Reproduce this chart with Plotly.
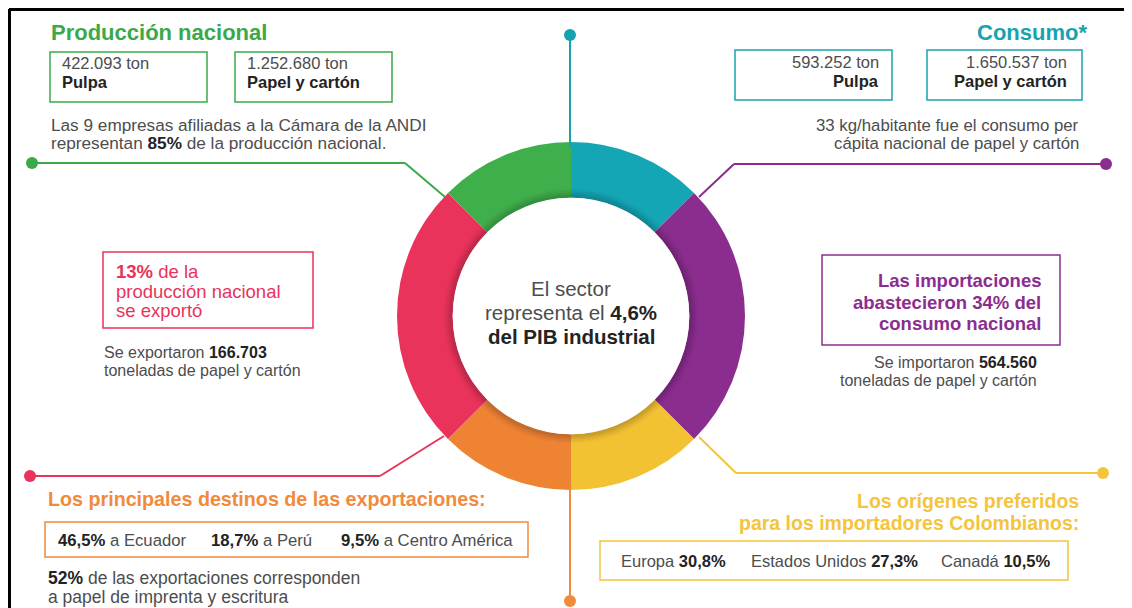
import plotly.graph_objects as go

# ---------------- data ----------------
segments = ["Consumo", "Importaciones", "Orígenes de importaciones",
            "Destinos de exportaciones", "Exportaciones", "Producción nacional"]
segment_share = [1, 2, 1, 1, 2, 1]
segment_colors = ["#14a6b5", "#8b2d8f", "#f3c233", "#ef8334", "#e9335b", "#3faf4b"]

produccion_ton = ["422.093", "1.252.680"]
produccion_labels = ["Pulpa", "Papel y cartón"]
consumo_ton = ["593.252", "1.650.537"]
consumo_labels = ["Pulpa", "Papel y cartón"]
destinos = ["Ecuador", "Perú", "Centro América"]
destinos_pct = ["46,5%", "18,7%", "9,5%"]
origenes = ["Europa", "Estados Unidos", "Canadá"]
origenes_pct = ["30,8%", "27,3%", "10,5%"]

# ---------------- layout helpers ----------------
# the page body has an 8px margin: the figure is drawn 8px in from the window corner
OFF = 8
W, H = 1132 - OFF, 608 - OFF
FONT = "Liberation Sans, Arial, Helvetica, sans-serif"
GRAY = "#4d4d4d"
DARK = "#232323"
GREEN, TEAL, PURPLE = "#3aa94a", "#17a3ad", "#8b2d8f"
RED, ORANGE, YELLOW = "#e9335b", "#f08a3c", "#f4c43c"

CX, CY, R_OUT, HOLE = 571, 316, 174, 0.68
R_IN = R_OUT * HOLE


def px(x):
    return (x - OFF) / W


def py(y):
    return 1 - (y - OFF) / H


shapes = []
annotations = []


def line(pts, color, width=2):
    for (x0, y0), (x1, y1) in zip(pts[:-1], pts[1:]):
        shapes.append(dict(type="line", xref="paper", yref="paper",
                           x0=px(x0), y0=py(y0), x1=px(x1), y1=py(y1),
                           line=dict(color=color, width=width)))


def dot(x, y, color, r=6):
    shapes.append(dict(type="circle", xref="paper", yref="paper",
                       x0=px(x - r), x1=px(x + r), y0=py(y - r), y1=py(y + r),
                       fillcolor=color, line=dict(width=0)))


def box(x0, y0, x1, y1, color, width=1.5):
    shapes.append(dict(type="rect", xref="paper", yref="paper",
                       x0=px(x0), x1=px(x1), y0=py(y0), y1=py(y1),
                       line=dict(color=color, width=width), fillcolor="rgba(0,0,0,0)"))


def text(x, y, s, size=15, color=GRAY, anchor="left"):
    annotations.append(dict(xref="paper", yref="paper", x=px(x), y=py(y), text=s,
                            showarrow=False, xanchor=anchor, yanchor="middle",
                            font=dict(family=FONT, size=size, color=color)))


def bold(s, color=DARK):
    return f"<b style='color:{color}'>{s}</b>"


# frame
line([(9, 9.5), (1132, 9.5)], "#000000", 3)
line([(9.5, 9), (9.5, 608)], "#000000", 3)

# connectors
line([(32, 163), (405, 163), (445, 197)], GREEN)
dot(32, 163, GREEN)
line([(570, 35), (570, 148)], TEAL)
dot(570, 35, TEAL)
line([(1106, 164), (734, 164), (699, 197)], PURPLE)
dot(1106, 164, PURPLE)
line([(30, 476), (380, 476), (444, 436)], RED)
dot(30, 476, RED)
line([(699, 437), (736, 473), (1103, 473)], YELLOW)
dot(1103, 473, YELLOW)
line([(570, 487), (570, 601)], ORANGE)
dot(570, 601, ORANGE)

# inner soft shadow + white centre
for k, a in [(9, 0.03), (7, 0.04), (5, 0.05), (3, 0.06)]:
    shapes.append(dict(type="circle", xref="paper", yref="paper",
                       x0=px(CX - R_IN - k), x1=px(CX + R_IN + k),
                       y0=py(CY - R_IN - k), y1=py(CY + R_IN + k),
                       fillcolor=f"rgba(0,0,0,{a})", line=dict(width=0)))
shapes.append(dict(type="circle", xref="paper", yref="paper",
                   x0=px(CX - R_IN), x1=px(CX + R_IN), y0=py(CY - R_IN), y1=py(CY + R_IN),
                   fillcolor="#ffffff", line=dict(width=0)))

# ---- Producción nacional (top-left)
text(49, 33, "<b>Producción nacional</b>", 22, GREEN)
box(50, 52, 207, 102, GREEN)
box(235, 52, 392, 102, GREEN)
text(60, 63, f"{produccion_ton[0]} ton", 16.5, GRAY)
text(60, 82, bold(produccion_labels[0]), 16.5, DARK)
text(245, 63, f"{produccion_ton[1]} ton", 16.5, GRAY)
text(245, 82, bold(produccion_labels[1]), 16.5, DARK)
text(49, 125, "Las 9 empresas afiliadas a la Cámara de la ANDI", 17.2, GRAY)
text(49, 143, f"representan {bold('85%')} de la producción nacional.", 17.2, GRAY)

# ---- Consumo (top-right)
text(1089, 33, "<b>Consumo*</b>", 22, TEAL, "right")
box(735, 50, 892, 100, TEAL)
box(927, 50, 1082, 100, TEAL)
text(881, 62, f"{consumo_ton[0]} ton", 16.5, GRAY, "right")
text(881, 81, bold(consumo_labels[0]), 16.5, DARK, "right")
text(1069, 62, f"{consumo_ton[1]} ton", 16.5, GRAY, "right")
text(1069, 81, bold(consumo_labels[1]), 16.5, DARK, "right")
text(1081, 125, "33 kg/habitante fue el consumo per", 16.8, GRAY, "right")
text(1081, 143, "cápita nacional de papel y cartón", 16.8, GRAY, "right")

# ---- Exportaciones (mid-left)
box(103, 252, 313, 328, RED)
text(114, 272, "<b>13%</b> de la", 18.5, RED)
text(114, 291, "producción nacional", 18.5, RED)
text(114, 310, "se exportó", 18.5, RED)
text(102, 352, f"Se exportaron {bold('166.703')}", 16, GRAY)
text(102, 370, "toneladas de papel y cartón", 16, GRAY)

# ---- Importaciones (mid-right)
box(822, 255, 1060, 345, PURPLE)
text(1043, 280, "<b>Las importaciones</b>", 18.5, PURPLE, "right")
text(1043, 302, "<b>abastecieron 34% del</b>", 18.5, PURPLE, "right")
text(1043, 324, "<b>consumo nacional</b>", 18.5, PURPLE, "right")
text(1039, 362, f"Se importaron {bold('564.560')}", 16, GRAY, "right")
text(1039, 380, "toneladas de papel y cartón", 16, GRAY, "right")

# ---- Destinos (bottom-left)
text(46, 499, "<b>Los principales destinos de las exportaciones:</b>", 19.7, ORANGE)
box(45, 522, 528, 557, ORANGE)
for xs, p, d in zip([56, 209, 339], destinos_pct, destinos):
    text(xs, 540, f"{bold(p)} a {d}", 16.7, GRAY)
text(46, 578, f"{bold('52%')} de las exportaciones corresponden", 17.5, GRAY)
text(46, 597, "a papel de imprenta y escritura", 17.5, GRAY)

# ---- Orígenes (bottom-right)
text(1081, 501, "<b>Los orígenes preferidos</b>", 19.5, YELLOW, "right")
text(1081, 523, "<b>para los importadores Colombianos:</b>", 19.5, YELLOW, "right")
box(600, 541, 1068, 580, YELLOW)
for xs, o, p in zip([619, 749, 939], origenes, origenes_pct):
    text(xs, 561, f"{o} {bold(p)}", 16.5, GRAY)

# ---- centre text
text(CX, 288, "El sector", 20.5, GRAY, "center")
text(CX, 312, f"representa el {bold('4,6%')}", 20.5, GRAY, "center")
text(CX, 336, bold("del PIB industrial"), 20.5, GRAY, "center")

fig = go.Figure(go.Pie(
    labels=segments, values=segment_share, sort=False, direction="clockwise",
    rotation=0, hole=HOLE, textinfo="none", hoverinfo="label", showlegend=False,
    marker=dict(colors=segment_colors, line=dict(width=0)),
    domain=dict(x=[px(CX - R_OUT), px(CX + R_OUT)], y=[py(CY + R_OUT), py(CY - R_OUT)]),
))

fig.update_layout(
    width=W, height=H, margin=dict(l=0, r=0, t=0, b=0),
    paper_bgcolor="#ffffff", plot_bgcolor="#ffffff",
    shapes=shapes, annotations=annotations, showlegend=False,
    font=dict(family=FONT),
)

fig.write_html("out.html")
